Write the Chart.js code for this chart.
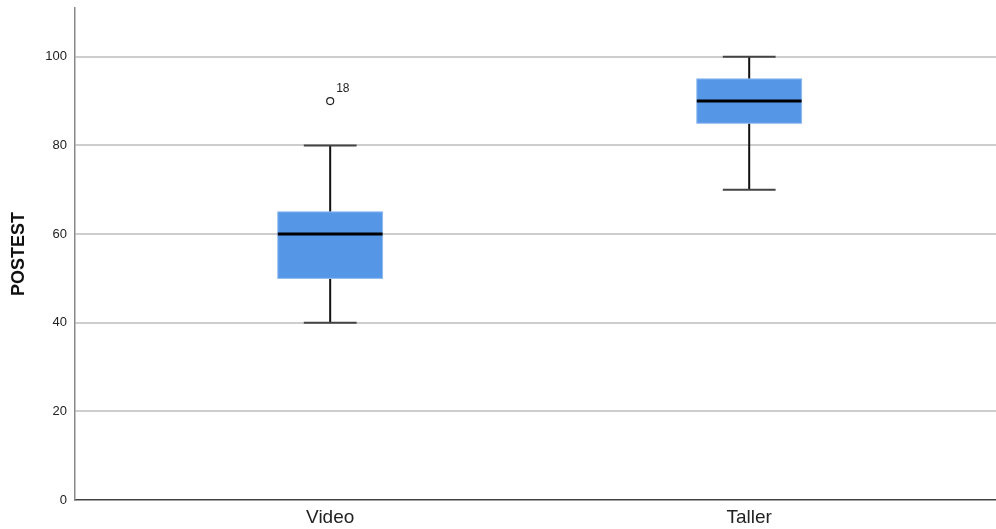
<!DOCTYPE html>
<html>
<head>
<meta charset="utf-8">
<script src="https://cdn.jsdelivr.net/npm/chart.js@4"></script>
<style>
  html, body { margin: 0; padding: 0; background: #fff; }
  #wrap { width: 996px; height: 529px; }
</style>
</head>
<body>
<div id="wrap"><canvas id="myChart"></canvas></div>
<script>
// categories and box plot stats
var groups = ['Video', 'Taller'];
var groupPos = [1, 2];
var whiskerLow = [40, 70];
var q1 = [50, 85];
var median = [60, 90];
var q3 = [65, 95];
var whiskerHigh = [80, 100];
var outlierGroup = [1];
var outlierValue = [90];
var outlierCase = ['18'];
var yTicks = [0, 20, 40, 60, 80, 100];

//draws boxes and whiskers using the chart scales
const boxPlugin = {
    id: 'boxes',
    beforeDatasetsDraw(chart) {
        const ctx = chart.ctx;
        const x = chart.scales.x;
        const y = chart.scales.y;
        ctx.save();
        for (let i = 0; i < groups.length; i++) {
            const cx = x.getPixelForValue(groupPos[i]);
            const bl = x.getPixelForValue(groupPos[i] - 0.125);
            const br = x.getPixelForValue(groupPos[i] + 0.125);
            const cl = x.getPixelForValue(groupPos[i] - 0.063);
            const cr = x.getPixelForValue(groupPos[i] + 0.063);
            const yLo = y.getPixelForValue(whiskerLow[i]);
            const yHi = y.getPixelForValue(whiskerHigh[i]);
            const yQ1 = y.getPixelForValue(q1[i]);
            const yQ3 = y.getPixelForValue(q3[i]);
            const yMed = y.getPixelForValue(median[i]);

            // whiskers
            ctx.strokeStyle = '#111';
            ctx.lineWidth = 2;
            ctx.beginPath();
            ctx.moveTo(cx, yLo); ctx.lineTo(cx, yQ1);
            ctx.moveTo(cx, yQ3); ctx.lineTo(cx, yHi);
            ctx.stroke();
            ctx.strokeStyle = '#444';
            ctx.beginPath();
            ctx.moveTo(cl, yLo); ctx.lineTo(cr, yLo);
            ctx.moveTo(cl, yHi); ctx.lineTo(cr, yHi);
            ctx.stroke();

            // box
            ctx.fillStyle = '#5596e6';
            ctx.fillRect(bl, yQ3, br - bl, yQ1 - yQ3);
            ctx.strokeStyle = '#8fbaf0';
            ctx.lineWidth = 1;
            ctx.strokeRect(bl, yQ3, br - bl, yQ1 - yQ3);

            // median
            ctx.strokeStyle = '#000';
            ctx.lineWidth = 3;
            ctx.beginPath();
            ctx.moveTo(bl, yMed); ctx.lineTo(br, yMed);
            ctx.stroke();
        }
        ctx.restore();
    },
    afterDatasetsDraw(chart) {
        const ctx = chart.ctx;
        const x = chart.scales.x;
        const y = chart.scales.y;
        ctx.save();
        ctx.fillStyle = '#222';
        ctx.font = '12px "Liberation Sans", Arial, sans-serif';
        ctx.textAlign = 'left';
        ctx.textBaseline = 'middle';
        for (let i = 0; i < outlierValue.length; i++) {
            const px = x.getPixelForValue(outlierGroup[i]);
            const py = y.getPixelForValue(outlierValue[i]);
            ctx.fillText(outlierCase[i], px + 6, py - 12);
        }
        ctx.restore();
    }
};

window.addEventListener('load', function () {
    const ctx = document.getElementById('myChart').getContext('2d');
    const data = {
        datasets: [
            {
                label: 'Outliers',
                data: outlierValue.map((v, i) => ({ x: outlierGroup[i], y: v })),
                pointStyle: 'circle',
                pointRadius: 3.5,
                borderWidth: 1.2,
                borderColor: '#222',
                backgroundColor: '#fff'
            }
        ]
    };
    const config = {
        type: 'scatter',
        data: data,
        plugins: [boxPlugin],
        options: {
            responsive: true,
            maintainAspectRatio: false,
            animation: false,
            layout: { autoPadding: false, padding: { top: 8, right: 0, left: 0, bottom: 0 } },
            plugins: {
                legend: { display: false },
                tooltip: { enabled: false }
            },
            scales: {
                x: {
                    type: 'linear',
                    min: 0.391,
                    max: 2.589,
                    afterBuildTicks: function (axis) {
                        axis.ticks = groupPos.map(v => ({ value: v }));
                    },
                    afterFit: function (axis) {
                        axis.height = 29;
                        axis.paddingLeft = 0;
                        axis.paddingRight = 0;
                    },
                    ticks: {
                        callback: function (value) {
                            const k = groupPos.indexOf(value);
                            return k >= 0 ? groups[k] : '';
                        },
                        color: '#222',
                        font: { family: '"Liberation Sans", Arial, sans-serif', size: 19 },
                        padding: 6,
                        maxRotation: 0
                    },
                    grid: { display: false, drawTicks: false },
                    border: { color: '#444', width: 1.5 }
                },
                y: {
                    min: 0,
                    max: 111,
                    afterBuildTicks: function (axis) {
                        axis.ticks = yTicks.map(v => ({ value: v }));
                    },
                    afterFit: function (axis) {
                        axis.width = 75;
                        axis.paddingTop = 0;
                        axis.paddingBottom = 0;
                    },
                    ticks: {
                        color: '#222',
                        font: { family: '"Liberation Sans", Arial, sans-serif', size: 13 },
                        padding: 8
                    },
                    grid: {
                        color: function (c) { return c.tick && c.tick.value === 0 ? 'rgba(0,0,0,0)' : '#cdcdcd'; },
                        lineWidth: 2,
                        drawTicks: false
                    },
                    border: { color: '#888', width: 1.5 },
                    title: {
                        display: true,
                        text: 'POSTEST',
                        color: '#111',
                        font: { family: '"Liberation Sans", Arial, sans-serif', size: 18, weight: 'bold' },
                        padding: { top: 8, bottom: 16 }
                    }
                }
            }
        }
    };
    myChart = new Chart(ctx, config);
});
var myChart = null;
</script>
</body>
</html>
